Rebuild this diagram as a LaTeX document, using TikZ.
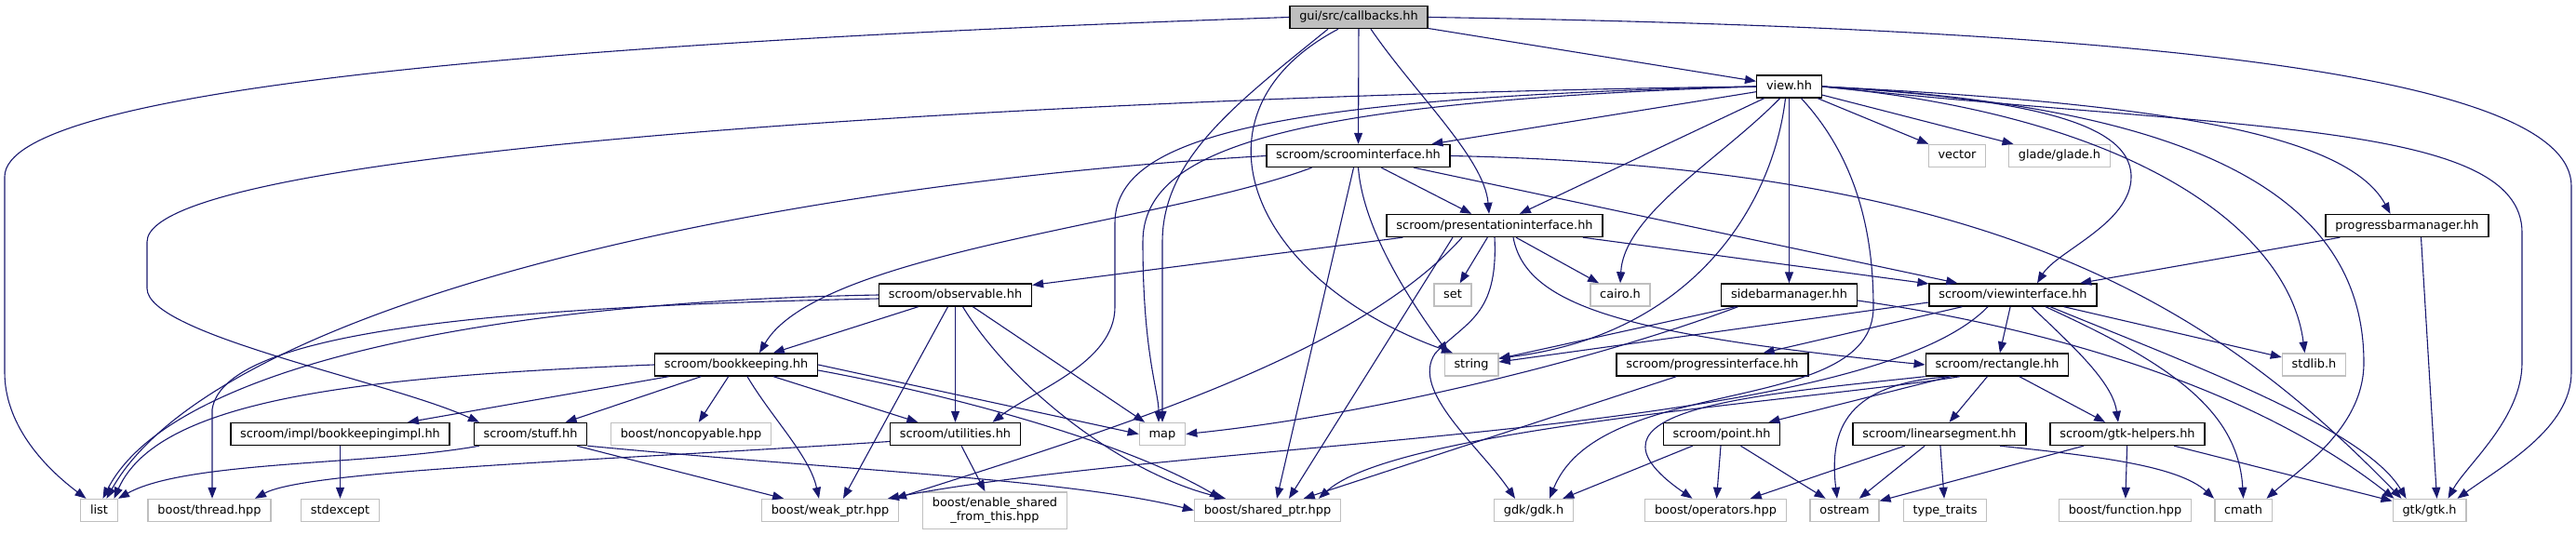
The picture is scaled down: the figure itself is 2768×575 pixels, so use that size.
\documentclass[tikz,border=0pt]{standalone}
\usepackage{fontspec}
\setmainfont{DejaVu Sans}
\usetikzlibrary{arrows.meta}

\definecolor{edgeblue}{HTML}{191970}
\definecolor{boxgray}{HTML}{BFBFBF}

\begin{document}
\begin{tikzpicture}[x=1pt, y=-1pt,
  dotbox/.style={rectangle, line width=1.4pt, font=\fontsize{12.9}{15}\selectfont,
    inner xsep=10.3pt, inner ysep=0pt, text height=10pt, text depth=3pt, minimum height=24pt},
  incbox/.style={dotbox, draw=black, fill=white},
  rootbox/.style={dotbox, draw=black, fill=boxgray},
  sysbox/.style={dotbox, draw=boxgray, fill=white},
  dep/.style={draw=edgeblue, line width=1.1pt, -{Triangle[length=12pt,width=9pt]}}]

\fill[white] (0,0) rectangle (2768,575);
\useasboundingbox (0,0) rectangle (2768,575);

\node[rootbox] (callbacks) at (1460,18.5) {gui/src/callbacks.hh};
\node[incbox] (view) at (1922.5,93) {view.hh};
\node[incbox] (scroomif) at (1459.5,167.5) {scroom/scroominterface.hh};
\node[sysbox] (vector) at (2103,167.5) {vector};
\node[sysbox] (glade) at (2213,167.5) {glade/glade.h};
\node[incbox] (presif) at (1606,242.5) {scroom/presentationinterface.hh};
\node[incbox] (progbar) at (2586.5,242.5) {progressbarmanager.hh};
\node[incbox] (observable) at (1026.5,317) {scroom/observable.hh};
\node[sysbox] (set) at (1561,317) {set};
\node[sysbox] (cairo) at (1741,317) {cairo.h};
\node[incbox] (sidebar) at (1922.5,317) {sidebarmanager.hh};
\node[incbox] (viewif) at (2163,317) {scroom/viewinterface.hh};
\node[incbox] (bookkeeping) at (791,392) {scroom/bookkeeping.hh};
\node[sysbox] (string) at (1581,392) {string};
\node[incbox] (progif) at (1840,392) {scroom/progressinterface.hh};
\node[incbox] (rectangle) at (2146,392) {scroom/rectangle.hh};
\node[sysbox] (stdlib) at (2486.5,392) {stdlib.h};
\node[incbox] (bkimpl) at (365.5,466.5) {scroom/impl/bookkeepingimpl.hh};
\node[incbox] (stuff) at (570,466.5) {scroom/stuff.hh};
\node[sysbox] (noncopy) at (742.5,466.5) {boost/noncopyable.hpp};
\node[incbox] (utilities) at (1026.5,466.5) {scroom/utilities.hh};
\node[sysbox] (map) at (1249,466.5) {map};
\node[incbox] (point) at (1850,466.5) {scroom/point.hh};
\node[incbox] (linseg) at (2084,466.5) {scroom/linearsegment.hh};
\node[incbox] (gtkhelp) at (2286,466.5) {scroom/gtk-helpers.hh};
\node[sysbox] (list) at (106.5,548.5) {list};
\node[sysbox] (thread) at (225,548.5) {boost/thread.hpp};
\node[sysbox] (stdexcept) at (365.5,548.5) {stdexcept};
\node[sysbox] (weakptr) at (892,548.5) {boost/weak\_ptr.hpp};
\node[sysbox, align=center, text height={}, text depth={}, minimum height=39.4pt]
  (enable) at (1069,548.5) {boost/enable\_shared\\\_from\_this.hpp};
\node[sysbox] (sharedptr) at (1362,548.5) {boost/shared\_ptr.hpp};
\node[sysbox] (gdk) at (1648,548.5) {gdk/gdk.h};
\node[sysbox] (operators) at (1843.5,548.5) {boost/operators.hpp};
\node[sysbox] (ostream) at (1982,548.5) {ostream};
\node[sysbox] (typetraits) at (2090,548.5) {type\_traits};
\node[sysbox] (function) at (2283.5,548.5) {boost/function.hpp};
\node[sysbox] (cmath) at (2410.5,548.5) {cmath};
\node[sysbox] (gtk) at (2610.5,548.5) {gtk/gtk.h};

\draw[dep] (callbacks.west) .. controls (600,45) and (5,95) .. (5,190) -- (5,400)
  .. controls (5,455) and (45,500) .. ([xshift=-14]list.north);
\draw[dep] (callbacks) -- (view);
\draw[dep] (callbacks) -- (scroomif);
\draw[dep] ([xshift=13]callbacks.south) .. controls (1520,100) and (1595,170) .. ([xshift=-6]presif.north);
\draw[dep] ([xshift=-33]callbacks.south) .. controls (1330,110) and (1249,170) .. (1249,260) -- (map.north);
\draw[dep] ([xshift=-22]callbacks.south) .. controls (1270,120) and (1340,300) .. ([xshift=-20]string.north);
\draw[dep] (callbacks.east) .. controls (2300,30) and (2763,80) .. (2763,200) -- (2763,400)
  .. controls (2763,460) and (2690,500) .. ([xshift=30]gtk.north);

\draw[dep] (view.west) .. controls (1300,100) and (158,150) .. (158,260) -- (158,310)
  .. controls (158,360) and (420,410) .. ([xshift=-55]stuff.north);
\draw[dep] (view.west) .. controls (1350,105) and (1198,150) .. (1198,240) -- (1198,330)
  .. controls (1198,390) and (1110,420) .. ([xshift=40]utilities.north);
\draw[dep] (view.west) .. controls (1380,110) and (1228,160) .. (1228,260)
  .. controls (1228,380) and (1245,420) .. ([xshift=-4]map.north);
\draw[dep] (view) -- (scroomif);
\draw[dep] (view) -- (presif);
\draw[dep] ([xshift=-4]view.south) .. controls (1905,220) and (1820,360) .. ([yshift=7pt]string.east);
\draw[dep] ([xshift=-10]view.south) .. controls (1850,170) and (1745,230) .. (cairo.north);
\draw[dep] (view) -- (sidebar);
\draw[dep] ([xshift=13]view.south) .. controls (1995,170) and (2013,250) .. (2013,330)
  .. controls (2013,450) and (1720,400) .. ([xshift=17]gdk.north);
\draw[dep] (view.east) .. controls (2150,105) and (2290,125) .. (2290,190)
  .. controls (2290,240) and (2210,270) .. ([xshift=26]viewif.north);
\draw[dep] (view) -- (vector);
\draw[dep] (view) -- (glade);
\draw[dep] (view.east) .. controls (2300,110) and (2520,140) .. ([xshift=-18]progbar.north);
\draw[dep] (view.east) .. controls (2300,125) and (2460,250) .. ([xshift=-10]stdlib.north);
\draw[dep] (view.east) .. controls (2380,115) and (2540,220) .. (2540,390)
  .. controls (2540,460) and (2470,505) .. ([xshift=25]cmath.north);
\draw[dep] (view.east) .. controls (2400,140) and (2710,130) .. (2710,250) -- (2710,390)
  .. controls (2710,450) and (2650,500) .. ([xshift=20]gtk.north);

\draw[dep] (scroomif.west) .. controls (800,200) and (230,330) .. ([xshift=8]list.north);
\draw[dep] ([xshift=-50]scroomif.south) .. controls (1250,240) and (880,270) .. ([xshift=25]bookkeeping.north);
\draw[dep] ([xshift=-5]scroomif.south) -- ([xshift=10]sharedptr.north);
\draw[dep] (scroomif.south) .. controls (1465,250) and (1520,330) .. ([xshift=-25]string.north);
\draw[dep] (scroomif) -- (presif);
\draw[dep] (scroomif) -- (viewif);
\draw[dep] (scroomif.east) .. controls (2150,180) and (2380,330) .. ([xshift=-30]gtk.north);

\draw[dep] (presif) -- (observable);
\draw[dep] ([xshift=-35]presif.south) .. controls (1460,380) and (1200,460) .. ([xshift=70]weakptr.north);
\draw[dep] (presif) -- (set);
\draw[dep] (presif.south) .. controls (1610,340) and (1575,345) .. (1542,380)
  .. controls (1515,420) and (1590,480) .. ([xshift=-20]gdk.north);
\draw[dep] ([xshift=-45]presif.south) -- ([xshift=23]sharedptr.north);
\draw[dep] (presif) -- (cairo);
\draw[dep] ([xshift=20]presif.south) .. controls (1640,330) and (1750,360) .. (rectangle.west);
\draw[dep] (presif) -- (viewif);

\draw[dep] (progbar) -- (viewif);
\draw[dep] ([xshift=15]progbar.south) -- ([xshift=8]gtk.north);

\draw[dep] (sidebar) -- (string);
\draw[dep] ([xshift=-55]sidebar.south) .. controls (1720,385) and (1480,445) .. (map.east);
\draw[dep] ([yshift=-6pt]sidebar.east) .. controls (2150,345) and (2400,400) .. ([xshift=-38]gtk.north);

\draw[dep] ([yshift=-8pt]viewif.west) -- ([yshift=3pt]string.east);
\draw[dep] (viewif) -- (progif);
\draw[dep] ([xshift=-27]viewif.south) .. controls (2000,470) and (1300,470) .. ([xshift=62]weakptr.north);
\draw[dep] (viewif) -- (rectangle);
\draw[dep] ([xshift=20]viewif.south) .. controls (2225,370) and (2270,410) .. ([xshift=-10]gtkhelp.north);
\draw[dep] ([xshift=35]viewif.south) .. controls (2330,390) and (2405,440) .. (cmath.north);
\draw[dep] ([xshift=40]viewif.south) .. controls (2350,390) and (2540,460) .. ([xshift=-25]gtk.north);
\draw[dep] (viewif) -- (stdlib);

\draw[dep] (rectangle) -- (point);
\draw[dep] (rectangle) -- (linseg);
\draw[dep] (rectangle) -- (gtkhelp);
\draw[dep] ([xshift=-50]rectangle.south) .. controls (1985,412) and (1965,460) .. ([xshift=-8]ostream.north);
\draw[dep] (rectangle.south west) .. controls (1880,425) and (1680,440) .. ([xshift=-25]operators.north);
\draw[dep] ([xshift=-40]rectangle.south) .. controls (1950,430) and (1500,460) .. ([xshift=55]sharedptr.north);

\draw[dep] (point) -- (gdk);
\draw[dep] (point) -- (operators);
\draw[dep] (point) -- (ostream);

\draw[dep] (linseg) -- (operators);
\draw[dep] (linseg) -- (ostream);
\draw[dep] (linseg) -- (typetraits);
\draw[dep] ([xshift=65]linseg.south) .. controls (2250,490) and (2340,500) .. (cmath.north west);

\draw[dep] (gtkhelp) -- (ostream);
\draw[dep] (gtkhelp) -- (function);
\draw[dep] (gtkhelp) -- (gtk);

\draw[dep] (progif) -- (sharedptr);

\draw[dep] (observable.west) .. controls (500,325) and (180,400) .. ([xshift=4]list.north);
\draw[dep] ([yshift=-4pt]observable.west) .. controls (500,330) and (240,360) .. (228,440) -- ([xshift=3]thread.north);
\draw[dep] (observable) -- (bookkeeping);
\draw[dep] ([xshift=-8]observable.south) -- ([xshift=14]weakptr.north);
\draw[dep] (observable) -- (utilities);
\draw[dep] ([xshift=8]observable.south) .. controls (1090,420) and (1210,510) .. ([xshift=-45]sharedptr.north);
\draw[dep] (observable) -- (map);

\draw[dep] (bookkeeping.west) .. controls (380,405) and (170,430) .. ([xshift=16]list.north);
\draw[dep] (bookkeeping) -- (bkimpl);
\draw[dep] (bookkeeping) -- (stuff);
\draw[dep] (bookkeeping) -- (noncopy);
\draw[dep] (bookkeeping) -- (utilities);
\draw[dep] ([xshift=12]bookkeeping.south) .. controls (830,450) and (870,490) .. ([xshift=-12]weakptr.north);
\draw[dep] (bookkeeping.east) -- (map.west);
\draw[dep] ([yshift=-6pt]bookkeeping.east) .. controls (1000,420) and (1200,470) .. ([xshift=-50]sharedptr.north);

\draw[dep] (bkimpl) -- (stdexcept);

\draw[dep] ([xshift=-55]stuff.south) .. controls (400,500) and (200,495) .. (list.north east);
\draw[dep] (stuff) -- (weakptr);
\draw[dep] (stuff.south east) .. controls (900,505) and (1150,515) .. (sharedptr.west);

\draw[dep] ([yshift=-8pt]utilities.west) .. controls (650,495) and (330,505) .. ([xshift=49]thread.north);
\draw[dep] (utilities) -- (enable);
\end{tikzpicture}
\end{document}
